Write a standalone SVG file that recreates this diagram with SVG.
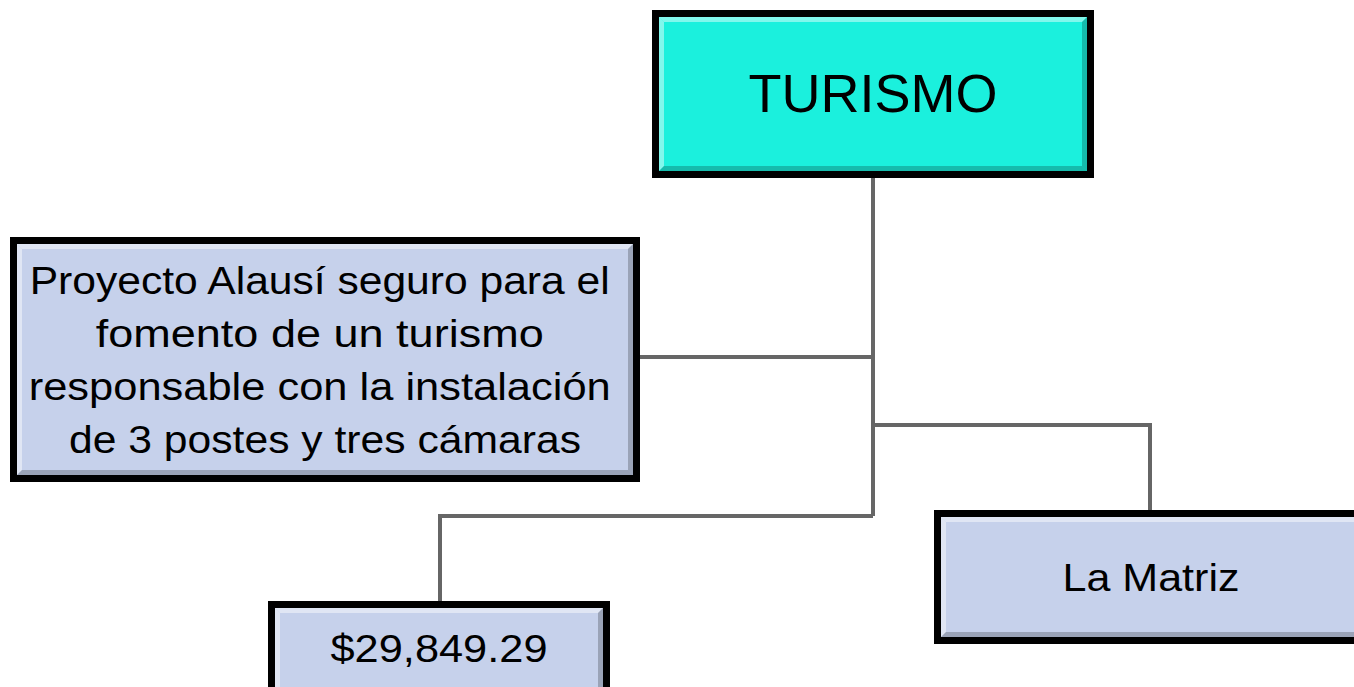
<svg xmlns="http://www.w3.org/2000/svg" width="1354" height="687" viewBox="0 0 1354 687">
<style>
.box{stroke:#000;stroke-width:7}
.main{fill:#1BF0DD}
.sub{fill:#C6D1EB}
.hl{fill:#fff;opacity:0.45}
.sh{fill:#000;opacity:0.22}
.conn{fill:none;stroke:#666;stroke-width:4}
text{font-family:"Liberation Sans",Arial,sans-serif;fill:#000;text-anchor:middle}
</style>
<rect width="1354" height="687" fill="#fff"/>
<g id="connectors">
<path class="conn" d="M873 178 V516"/>
<path class="conn" d="M640 357 H873"/>
<path class="conn" d="M873 425 H1150 V510"/>
<path class="conn" d="M873 516 H440 V601"/>
</g>
<g id="turismo">
<rect class="box main" x="655.5" y="13.5" width="435" height="161"/>
<polygon class="hl" points="659,17 1087,17 1082,22 664,22"/>
<polygon class="hl" points="659,17 664,22 664,166 659,171"/>
<polygon class="sh" points="659,171 664,166 1082,166 1087,171"/>
<polygon class="sh" points="1087,17 1087,171 1082,166 1082,22"/>
<text x="873" y="112" font-size="54">TURISMO</text>
</g>
<g id="proyecto">
<rect class="box sub" x="13.5" y="240.5" width="623" height="238"/>
<polygon class="hl" points="17,244 633,244 628,249 22,249"/>
<polygon class="hl" points="17,244 22,249 22,470 17,475"/>
<polygon class="sh" points="17,475 22,470 628,470 633,475"/>
<polygon class="sh" points="633,244 633,475 628,470 628,249"/>
<text font-size="38">
<tspan x="325" y="294" textLength="580" lengthAdjust="spacingAndGlyphs">Proyecto Alausí seguro para el</tspan>
<tspan x="325" y="347" textLength="448" lengthAdjust="spacingAndGlyphs">fomento de un turismo</tspan>
<tspan x="325" y="400" textLength="582" lengthAdjust="spacingAndGlyphs">responsable con la instalación</tspan>
<tspan x="325" y="453" textLength="512" lengthAdjust="spacingAndGlyphs">de 3 postes y tres cámaras</tspan>
</text>
</g>
<g id="monto">
<rect class="box sub" x="271.5" y="604.5" width="335" height="100"/>
<polygon class="hl" points="275,608 603,608 598,613 280,613"/>
<polygon class="hl" points="275,608 280,613 280,690 275,690"/>
<polygon class="sh" points="603,608 603,690 598,690 598,613"/>
<text x="439" y="662" font-size="38" textLength="217" lengthAdjust="spacingAndGlyphs">$29,849.29</text>
</g>
<g id="lamatriz">
<rect class="box sub" x="937.5" y="513.5" width="430" height="127"/>
<polygon class="hl" points="941,517 1360,517 1360,522 946,522"/>
<polygon class="hl" points="941,517 946,522 946,632 941,637"/>
<polygon class="sh" points="941,637 946,632 1360,632 1360,637"/>
<text x="1151" y="591" font-size="38" textLength="177" lengthAdjust="spacingAndGlyphs">La Matriz</text>
</g>
</svg>
